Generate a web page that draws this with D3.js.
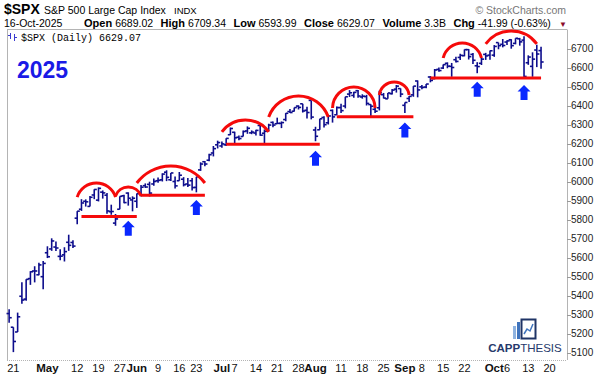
<!DOCTYPE html>
<html>
<head>
<meta charset="utf-8">
<script src="https://cdn.jsdelivr.net/npm/d3@7"></script>
<style>
  body { margin: 0; background: #fff; }
  svg { display: block; font-family: "Liberation Sans", Arial, sans-serif; }
</style>
</head>
<body>
<div id="chart"></div>
<script>
/* global d3 */

// daily bars, $SPX
const DATES = [
  "2025-04-17","2025-04-21","2025-04-22","2025-04-23","2025-04-24","2025-04-25","2025-04-28","2025-04-29","2025-04-30",
  "2025-05-01","2025-05-02","2025-05-05","2025-05-06","2025-05-07","2025-05-08","2025-05-09","2025-05-12","2025-05-13",
  "2025-05-14","2025-05-15","2025-05-16","2025-05-19","2025-05-20","2025-05-21","2025-05-22","2025-05-23","2025-05-27",
  "2025-05-28","2025-05-29","2025-05-30","2025-06-02","2025-06-03","2025-06-04","2025-06-05","2025-06-06","2025-06-09",
  "2025-06-10","2025-06-11","2025-06-12","2025-06-13","2025-06-16","2025-06-17","2025-06-18","2025-06-20","2025-06-23",
  "2025-06-24","2025-06-25","2025-06-26","2025-06-27","2025-06-30","2025-07-01","2025-07-02","2025-07-03","2025-07-07",
  "2025-07-08","2025-07-09","2025-07-10","2025-07-11","2025-07-14","2025-07-15","2025-07-16","2025-07-17","2025-07-18",
  "2025-07-21","2025-07-22","2025-07-23","2025-07-24","2025-07-25","2025-07-28","2025-07-29","2025-07-30","2025-07-31",
  "2025-08-01","2025-08-04","2025-08-05","2025-08-06","2025-08-07","2025-08-08","2025-08-11","2025-08-12","2025-08-13",
  "2025-08-14","2025-08-15","2025-08-18","2025-08-19","2025-08-20","2025-08-21","2025-08-22","2025-08-25","2025-08-26",
  "2025-08-27","2025-08-28","2025-08-29","2025-09-02","2025-09-03","2025-09-04","2025-09-05","2025-09-08","2025-09-09",
  "2025-09-10","2025-09-11","2025-09-12","2025-09-15","2025-09-16","2025-09-17","2025-09-18","2025-09-19","2025-09-22",
  "2025-09-23","2025-09-24","2025-09-25","2025-09-26","2025-09-29","2025-09-30","2025-10-01","2025-10-02","2025-10-03",
  "2025-10-06","2025-10-07","2025-10-08","2025-10-09","2025-10-10","2025-10-13","2025-10-14","2025-10-15","2025-10-16"
];
const OPEN = [
  5305,5233,5208,5396,5381,5489,5529,5509,5499, 5625,5645,5655,5606,5614,5680,5679,5807,5854,
  5896,5869,5929,5902,5944,5928,5841,5781,5854, 5925,5939,5903,5896,5938,5978,5985,5987,6004,
  6009,6049,6009,6000,6004,6012,5987,6004,5969, 6061,6104,6112,6150,6193,6187,6193,6246,6259,
  6233,6237,6266,6256,6255,6295,6254,6269,6311, 6304,6306,6326,6368,6370,6397,6409,6375,6427,
  6271,6272,6337,6309,6374,6351,6389,6397,6460, 6453,6478,6445,6447,6405,6380,6388,6457,6435,
  6462,6486,6489,6401,6437,6456,6529,6498,6497, 6550,6541,6590,6597,6622,6606,6641,6653,6662,
  6694,6669,6609,6622,6669,6665,6665,6731,6722, 6734,6746,6727,6751,6744,6625,6606,6692,6689
];
const HIGH = [
  5328,5233,5310,5470,5485,5528,5554,5572,5582, 5659,5701,5684,5643,5654,5720,5691,5844,5907,
  5906,5924,5959,5969,5953,5939,5878,5829,5922, 5930,5943,5922,5937,5981,5990,5999,6016,6021,
  6043,6059,6045,6026,6050,6023,6018,6018,6025, 6101,6108,6146,6187,6215,6210,6227,6284,6262,
  6242,6269,6290,6269,6272,6302,6274,6304,6316, 6336,6316,6360,6381,6389,6401,6409,6393,6427,
  6288,6330,6344,6352,6379,6395,6409,6446,6481, 6473,6481,6459,6456,6407,6393,6478,6466,6466,
  6487,6508,6490,6416,6450,6502,6532,6508,6513, 6555,6592,6600,6616,6627,6624,6656,6672,6695,
  6697,6676,6628,6650,6677,6689,6718,6731,6750, 6744,6749,6754,6756,6765,6664,6680,6720,6709
];
const LOW = [
  5256,5102,5208,5356,5372,5456,5469,5506,5433, 5597,5635,5634,5586,5579,5635,5650,5775,5845,
  5868,5868,5907,5895,5910,5830,5825,5767,5854, 5886,5873,5843,5861,5921,5966,5921,5978,5994,
  6000,6002,6003,5963,6004,5974,5971,5952,5943, 6056,6080,6106,6132,6174,6177,6187,6245,6201,
  6217,6237,6251,6249,6242,6241,6201,6264,6285, 6303,6281,6317,6360,6368,6379,6363,6332,6327,
  6212,6272,6284,6300,6310,6350,6361,6385,6445, 6441,6441,6436,6400,6343,6360,6374,6437,6435,
  6458,6468,6444,6360,6418,6446,6443,6486,6491, 6522,6538,6577,6592,6596,6551,6626,6640,6659,
  6642,6618,6570,6613,6640,6641,6656,6696,6706, 6718,6699,6722,6715,6550,6614,6551,6602,6594
];
const CLOSE = [
  5283,5158,5288,5376,5485,5525,5529,5561,5569, 5604,5687,5650,5607,5631,5664,5660,5844,5887,
  5893,5917,5958,5964,5940,5845,5842,5803,5922, 5889,5912,5912,5936,5970,5971,5939,6000,6006,
  6039,6022,6045,5977,6033,5983,5981,5968,6025, 6092,6092,6141,6173,6205,6198,6227,6279,6230,
  6226,6263,6280,6260,6269,6244,6264,6297,6297, 6306,6310,6359,6363,6389,6390,6371,6363,6339,
  6238,6330,6299,6345,6340,6389,6373,6446,6467, 6469,6450,6449,6411,6396,6370,6467,6439,6466,
  6481,6502,6460,6416,6448,6502,6482,6495,6513, 6532,6587,6584,6615,6607,6600,6632,6664,6694,
  6657,6638,6605,6644,6661,6688,6711,6715,6716, 6740,6715,6754,6735,6553,6655,6644,6671,6629
];
const FUTURE_DATES = ["2025-10-17", "2025-10-20"];

const X_TICK_DATES = [
  "2025-04-21","2025-05-01","2025-05-12","2025-05-19","2025-05-27","2025-06-02","2025-06-09","2025-06-16","2025-06-23",
  "2025-07-01","2025-07-07","2025-07-14","2025-07-21","2025-07-28","2025-08-01","2025-08-11","2025-08-18","2025-08-25",
  "2025-09-02","2025-09-08","2025-09-15","2025-09-22","2025-10-01","2025-10-06","2025-10-13","2025-10-20"
];
const X_TICK_LABELS = [
  "21","May","12","19","27","Jun","9","16","23",
  "Jul","7","14","21","28","Aug","11","18","25",
  "Sep","8","15","22","Oct","6","13","20"
];
const MONTH_LABELS = ["May", "Jun", "Jul", "Aug", "Sep", "Oct"];
const Y_TICKS = [5100,5200,5300,5400,5500,5600,5700,5800,5900,6000,6100,6200,6300,6400,6500,6600,6700];

// header quote fields
const QUOTE_LABELS = ["Open", "High", "Low", "Close", "Volume", "Chg"];
const QUOTE_VALUES = ["6689.02", "6709.34", "6593.99", "6629.07", "3.3B", "-41.99 (-0.63%)"];

// annotations (in date / price terms)
const SUPPORT_START = ["2025-05-13","2025-06-03","2025-07-02","2025-08-08","2025-09-10"];
const SUPPORT_END   = ["2025-06-02","2025-06-25","2025-08-04","2025-09-04","2025-10-16"];
const SUPPORT_PRICE = [5816, 5927, 6196, 6341, 6545];

const ARC_START = ["2025-05-12","2025-05-23","2025-06-02","2025-07-01","2025-07-17","2025-08-07","2025-08-22","2025-09-15","2025-09-29"];
const ARC_END   = ["2025-05-23","2025-06-03","2025-06-25","2025-07-17","2025-08-06","2025-08-21","2025-09-03","2025-09-26","2025-10-15"];
const ARC_BASE  = [5918, 5924, 5992, 6261, 6339, 6387, 6455, 6650, 6724];
const ARC_PEAK  = [5992, 5971, 6082, 6324, 6450, 6497, 6524, 6729, 6792];

const ARROW_DATES  = ["2025-05-29","2025-06-23","2025-08-01","2025-09-02","2025-09-25","2025-10-10"];
const ARROW_PRICES = [5794, 5903, 6162, 6311, 6525, 6508];

const BAR_COLOR = "#0d0d8c";
const RED = "#f50a0a";
const ARROW_BLUE = "#0a28ff";

const W = 599, H = 376;
const plot = { left: 7, right: 567, top: 29.5, bottom: 360 };

const allDates = DATES.concat(FUTURE_DATES);
const dateIndex = new Map(allDates.map((d, i) => [d, i]));

const x = d3.scaleLinear().domain([-0.5, 131.1]).range([plot.left, plot.right]);
const y = d3.scaleLinear().domain([5100, 6700]).range([352.5, 48.5]);
const xd = (d) => x(dateIndex.get(d));

const svg = d3.select("#chart").append("svg")
  .attr("width", W).attr("height", H)
  .attr("viewBox", `0 0 ${W} ${H}`);

// ---- header
const head = svg.append("g");
head.append("text").attr("x", 4).attr("y", 14)
  .attr("font-size", 14).attr("font-weight", "bold").text("$SPX");
head.append("text").attr("x", 44).attr("y", 14)
  .attr("font-size", 10.5).text("S&P 500 Large Cap Index");
head.append("text").attr("x", 174).attr("y", 14)
  .attr("font-size", 9.5).text("INDX");
head.append("text").attr("x", 566).attr("y", 14).attr("text-anchor", "end")
  .attr("font-size", 10.5).attr("fill", "#777").text("\u00a9 StockCharts.com");

head.append("text").attr("x", 4).attr("y", 27).attr("font-size", 10.5).text("16-Oct-2025");
const quote = head.append("text").attr("x", 84).attr("y", 27).attr("font-size", 10.5);
QUOTE_LABELS.forEach((label, i) => {
  quote.append("tspan").attr("dx", i === 0 ? 0 : 7.5)
    .attr("font-weight", "bold").attr("font-size", 11).text(label);
  quote.append("tspan").attr("dx", 3).text(QUOTE_VALUES[i]);
});
head.append("text").attr("x", 559).attr("y", 27).attr("font-size", 8)
  .attr("fill", "#8b0b2b").text("\u25bc");

// ---- frame
const frame = svg.append("g").attr("stroke", "#b4b4b4").attr("fill", "none");
frame.append("line").attr("x1", plot.left).attr("x2", plot.right).attr("y1", plot.top).attr("y2", plot.top);
frame.append("line").attr("x1", plot.left + 0.5).attr("x2", plot.left + 0.5).attr("y1", plot.top).attr("y2", plot.bottom);
frame.append("line").attr("x1", plot.right + 0.5).attr("x2", plot.right + 0.5).attr("y1", plot.top).attr("y2", plot.bottom);
frame.append("line").attr("x1", plot.left).attr("x2", plot.right).attr("y1", plot.bottom + 0.5).attr("y2", plot.bottom + 0.5)
  .attr("stroke-dasharray", "1,1");

// ---- y axis (right)
const yAxis = svg.append("g").attr("font-size", 10);
yAxis.selectAll("line").data(Y_TICKS).join("line")
  .attr("x1", plot.right).attr("x2", plot.right + 4)
  .attr("y1", (d) => Math.round(y(d)) + 0.5).attr("y2", (d) => Math.round(y(d)) + 0.5)
  .attr("stroke", "#999");
yAxis.selectAll("text").data(Y_TICKS).join("text")
  .attr("x", plot.right + 4).attr("y", (d) => y(d)).attr("dy", "0.36em")
  .attr("fill", "#222").text((d) => d);

// ---- x axis labels
svg.append("g").selectAll("text").data(X_TICK_DATES).join("text")
  .attr("x", (d) => xd(d)).attr("y", 372)
  .attr("text-anchor", "middle")
  .attr("font-size", (d, i) => (MONTH_LABELS.includes(X_TICK_LABELS[i]) ? 11.5 : 11))
  .attr("font-weight", (d, i) => (MONTH_LABELS.includes(X_TICK_LABELS[i]) ? "bold" : "normal"))
  .attr("fill", "#111")
  .text((d, i) => X_TICK_LABELS[i]);

// ---- legend
const leg = svg.append("g").attr("stroke", "#3a3ad0").attr("stroke-width", 1);
leg.append("line").attr("x1", 10.5).attr("x2", 10.5).attr("y1", 33).attr("y2", 39);
leg.append("line").attr("x1", 8).attr("x2", 10.5).attr("y1", 35.5).attr("y2", 35.5);
leg.append("line").attr("x1", 14.5).attr("x2", 14.5).attr("y1", 34).attr("y2", 41);
leg.append("line").attr("x1", 14.5).attr("x2", 17).attr("y1", 37.5).attr("y2", 37.5);
svg.append("text").attr("x", 21).attr("y", 41)
  .attr("font-family", "'Liberation Mono', 'DejaVu Sans Mono', monospace")
  .attr("font-size", 10).text("$SPX (Daily) 6629.07");

svg.append("text").attr("x", 17).attr("y", 78)
  .attr("font-size", 23).attr("font-weight", "bold").attr("fill", "#1a1ae6").text("2025");

// ---- OHLC bars
const bars = svg.append("g").attr("stroke", BAR_COLOR).attr("stroke-width", 1.6);
const idxs = d3.range(DATES.length);
bars.selectAll("line.hl").data(idxs).join("line").attr("class", "hl")
  .attr("x1", (i) => x(i)).attr("x2", (i) => x(i))
  .attr("y1", (i) => y(HIGH[i])).attr("y2", (i) => y(LOW[i]));
bars.selectAll("line.op").data(idxs).join("line").attr("class", "op")
  .attr("x1", (i) => x(i) - 2.6).attr("x2", (i) => x(i))
  .attr("y1", (i) => y(OPEN[i])).attr("y2", (i) => y(OPEN[i]));
bars.selectAll("line.cl").data(idxs).join("line").attr("class", "cl")
  .attr("x1", (i) => x(i)).attr("x2", (i) => x(i) + 2.6)
  .attr("y1", (i) => y(CLOSE[i])).attr("y2", (i) => y(CLOSE[i]));

// ---- support lines
svg.append("g").selectAll("line").data(SUPPORT_PRICE).join("line")
  .attr("x1", (d, i) => xd(SUPPORT_START[i])).attr("x2", (d, i) => xd(SUPPORT_END[i]))
  .attr("y1", (d) => y(d)).attr("y2", (d) => y(d))
  .attr("stroke", RED).attr("stroke-width", 3);

// ---- arcs
function arcPath(i) {
  const x0 = xd(ARC_START[i]), x1 = xd(ARC_END[i]);
  const yb = y(ARC_BASE[i]), yp = y(ARC_PEAK[i]);
  const c = x1 - x0, s = yb - yp;
  const r = (c * c / 4 + s * s) / (2 * s);
  const large = s > c / 2 ? 1 : 0;
  return `M${x0},${yb} A${r},${r} 0 ${large} 1 ${x1},${yb}`;
}
svg.append("g").selectAll("path").data(ARC_BASE).join("path")
  .attr("d", (d, i) => arcPath(i))
  .attr("fill", "none").attr("stroke", RED).attr("stroke-width", 3);

// ---- arrows
function arrowPath(cx, ty) {
  return `M${cx},${ty} L${cx + 6.5},${ty + 6.5} L${cx + 3.5},${ty + 6.5} L${cx + 3.5},${ty + 15}` +
    ` L${cx - 3.5},${ty + 15} L${cx - 3.5},${ty + 6.5} L${cx - 6.5},${ty + 6.5} Z`;
}
svg.append("g").selectAll("path").data(ARROW_PRICES).join("path")
  .attr("d", (d, i) => arrowPath(xd(ARROW_DATES[i]), y(d)))
  .attr("fill", ARROW_BLUE);

// ---- logo
const logo = svg.append("g");
logo.append("rect").attr("x", 513).attr("y", 326).attr("width", 3).attr("height", 13).attr("fill", "#8fb3e0");
logo.append("rect").attr("x", 517).attr("y", 322).attr("width", 3).attr("height", 17).attr("fill", "#3f74bd");
logo.append("rect").attr("x", 521.5).attr("y", 319.5).attr("width", 14).attr("height", 19)
  .attr("fill", "none").attr("stroke", "#1f3466").attr("stroke-width", 2);
logo.append("polyline").attr("points", "524,334 527,329 530,331 533,324")
  .attr("fill", "none").attr("stroke", "#3f74bd").attr("stroke-width", 1.5);
const lt = logo.append("text").attr("x", 525).attr("y", 352).attr("text-anchor", "middle")
  .attr("font-size", 11.5).attr("fill", "#26396b");
lt.append("tspan").attr("font-weight", "bold").text("CAPP");
lt.append("tspan").text("THESIS");
</script>
</body>
</html>
